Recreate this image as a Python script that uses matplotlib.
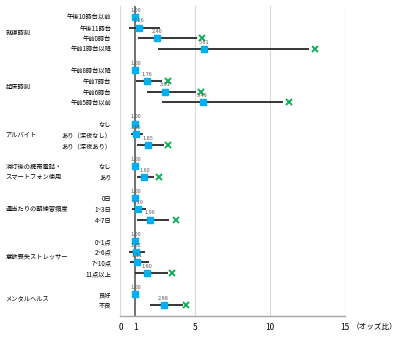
import numpy as np
import matplotlib
matplotlib.use('Agg')
import matplotlib.pyplot as plt
import matplotlib.transforms as mtransforms

plt.rcParams['font.family'] = ['Noto Sans CJK JP', 'DejaVu Sans']

nan = np.nan

# groups and row labels (first row in each group is the reference category)
group_names = ['就寝時刻', '起床時刻', 'アルバイト', '消灯後の携帯電話・\nスマートフォン使用',
               '週当たりの朝練習頻度', '意欲喪失ストレッサー', 'メンタルヘルス']
group_sizes = [4, 4, 3, 2, 3, 4, 2]
row_labels = ['午後10時台以前', '午後11時台', '午前0時台', '午前1時台以降',
              '午前8時台以降', '午前7時台', '午前6時台', '午前5時台以前',
              'なし', 'あり（深夜なし）', 'あり（深夜あり）',
              'なし', 'あり',
              '0日', '1~3日', '4~7日',
              '0~1点', '2~6点', '7~10点', '11点以上',
              '良好', '不良']

# odds ratios and 95% CI
odds = [1.00, 1.26, 2.46, 5.61,
        1.00, 1.76, 3.01, 5.49,
        1.00, 1.06, 1.85,
        1.00, 1.60,
        1.00, 1.19, 1.96,
        1.00, 1.02, 1.11, 1.80,
        1.00, 2.88]
ci_low = [nan, 0.57, 1.17, 2.48,
          nan, 1.03, 1.75, 2.75,
          nan, 0.70, 1.12,
          nan, 1.08,
          nan, 0.79, 1.14,
          nan, 0.59, 0.65, 0.99,
          nan, 1.97]
ci_high = [nan, 2.63, 5.10, 12.57,
           nan, 2.81, 5.08, 10.85,
           nan, 1.52, 2.92,
           nan, 2.25,
           nan, 1.70, 3.26,
           nan, 1.63, 1.90, 3.15,
           nan, 4.15]
# significance marks (x) positions
star_x = [nan, nan, 5.43, 12.97,
          nan, 3.19, 5.41, 11.23,
          nan, nan, 3.19,
          nan, 2.59,
          nan, nan, 3.68,
          nan, nan, nan, 3.45,
          nan, 4.41]

# y positions: one empty row between groups
ypos = []
group_mid = []
pos = 0
for n in group_sizes:
    ys = list(range(pos, pos + n))
    ypos += ys
    group_mid.append(np.mean(ys))
    pos += n + 1
ypos = np.array(ypos)

fig = plt.figure(figsize=(4.0, 3.37), dpi=100)
ax = fig.add_axes([0.301, 0.0623, 0.5615, 0.92])

for x in [0, 5, 10, 15]:
    ax.axvline(x, color='#D9D9D9', lw=0.8, zorder=0)
ax.axvline(1, color='#595959', lw=1.2, zorder=1)

ax.hlines(ypos, ci_low, ci_high, color='#262626', lw=1.3, zorder=2)
ax.plot(odds, ypos, 's', color='#00B0F0', markersize=4.5, zorder=3)
ax.plot(star_x, ypos, 'x', color='#00B050', markersize=4.5, mew=1.3, zorder=3)

for x, y in zip(odds, ypos):
    ax.annotate(f'{x:.2f}', (x, y), xytext=(0, 3), textcoords='offset points',
                ha='center', va='bottom', fontsize=4, color='#595959', zorder=4)

ax.set_xlim(0, 15)
ax.set_ylim(28.03, -1.03)
ax.set_yticks(ypos)
ax.set_yticklabels(row_labels, fontsize=4.5)
ax.set_xticks([0, 1, 5, 10, 15])
ax.set_xticklabels(['0', '1', '5', '10', '15'], fontsize=6)
ax.tick_params(axis='y', length=0, pad=6.5)
ax.tick_params(axis='x', length=0, pad=5)
ax.annotate('（オッズ比）', (15, 0), xycoords=('data', 'axes fraction'),
            xytext=(5, -5), textcoords='offset points', ha='left', va='top', fontsize=5.5)

for s in ['top', 'right', 'left']:
    ax.spines[s].set_visible(False)
ax.spines['bottom'].set_color('#A6A6A6')
ax.spines['bottom'].set_linewidth(1.0)

trans = mtransforms.blended_transform_factory(fig.transFigure, ax.transData)
for name, y in zip(group_names, group_mid):
    ax.text(0.014, y, name, transform=trans, ha='left', va='center',
            fontsize=4.5, linespacing=1.3)

fig.savefig('out.png', dpi=100)
